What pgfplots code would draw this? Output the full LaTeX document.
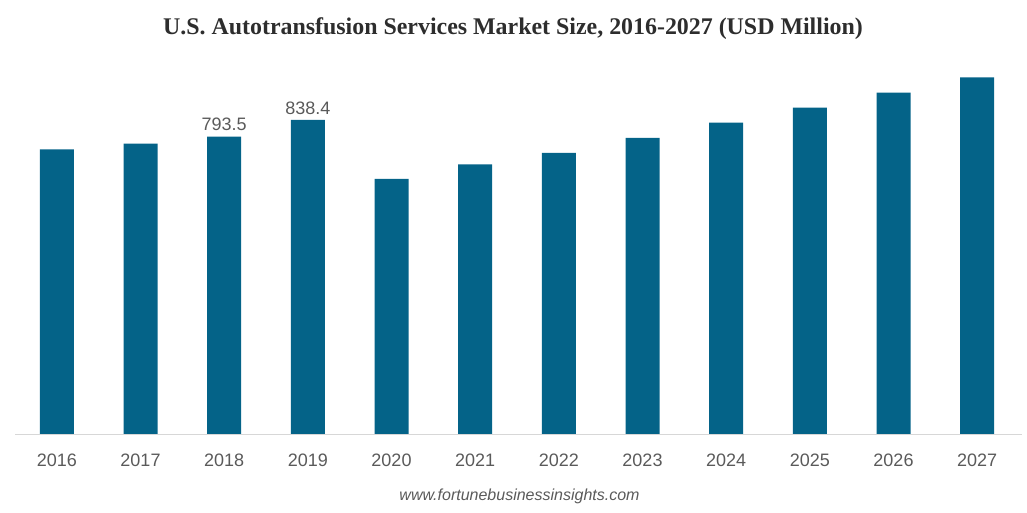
\documentclass[border=0pt]{standalone}
\usepackage{pgfplots}
\pgfplotsset{compat=1.18}
\usepackage{fontspec}
\setmainfont{Liberation Sans}
\newfontfamily\titlefont{Liberation Serif}
\definecolor{barblue}{RGB}{4,99,136}
\definecolor{ticktext}{RGB}{90,90,90}
\definecolor{titletext}{RGB}{45,45,45}
\definecolor{axisgray}{RGB}{215,215,215}

\pgfplotstableread{
x value
0 759.8
1 774.8
2 793.5
3 838.4
4 680.9
5 720.0
6 750.0
7 790.0
8 830.6
9 870.5
10 910.4
11 951.3
}\marketdata

\begin{document}
\begin{tikzpicture}[x=1pt,y=1pt]
\path[use as bounding box] (0,0) rectangle (1027,513);
\begin{axis}[
  anchor=south west, at={(15pt,78pt)},
  scale only axis,
  width=1004pt, height=376pt,
  xmin=-0.5, xmax=11.5, ymin=0, ymax=1000,
  ybar, bar width=34pt, bar shift=0pt,
  axis x line*=bottom, hide y axis,
  x axis line style={draw=none},
  xtick=data,
  xticklabels={2016,2017,2018,2019,2020,2021,2022,2023,2024,2025,2026,2027},
  major tick length=0pt,
  xticklabel style={font=\fontsize{18}{20}\selectfont, text=ticktext, yshift=-15pt},
  clip=false,
]
\addplot[fill=barblue, draw=none] table[x=x, y=value] {\marketdata};
% value labels on the two highlighted years
\node[font=\fontsize{18}{20}\selectfont, text=ticktext, anchor=south] at (axis cs:2,793.5) [yshift=2pt] {793.5};
\node[font=\fontsize{18}{20}\selectfont, text=ticktext, anchor=south] at (axis cs:3,838.4) [yshift=2pt] {838.4};
\end{axis}
\draw[axisgray, line width=1pt] (15,78) -- (1022,78);
\node[font=\titlefont\bfseries\fontsize{23.9}{26}\selectfont, text=titletext] at (513,484) {U.S. Autotransfusion Services Market Size, 2016-2027 (USD Million)};
\node[font=\itshape\fontsize{16}{18}\selectfont, text=ticktext] at (519.5,17) {www.fortunebusinessinsights.com};
\end{tikzpicture}
\end{document}
